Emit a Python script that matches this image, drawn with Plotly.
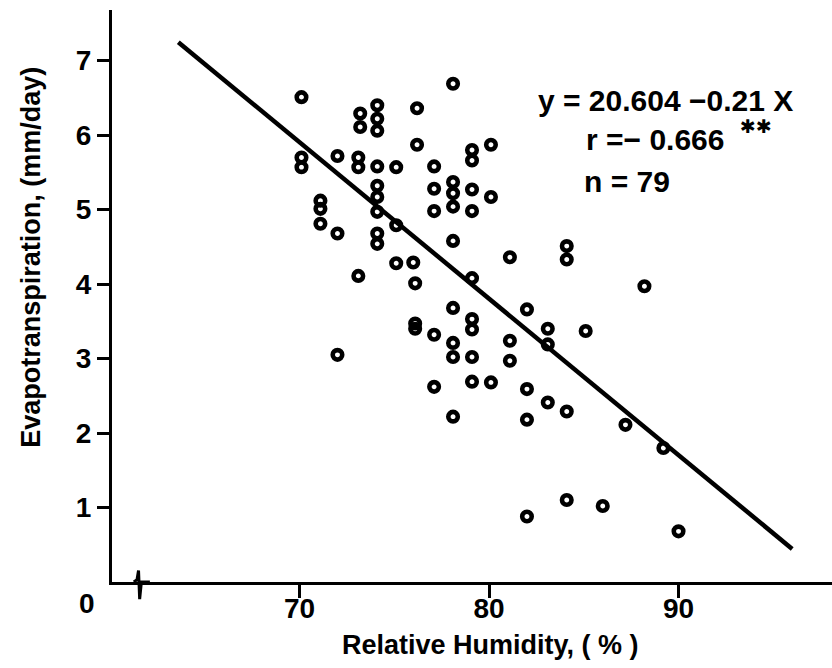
import plotly.graph_objects as go

# Relative humidity (%) and measured evapotranspiration (mm/day)
rh = [
    70.1, 70.1, 70.1,
    71.1, 71.1, 71.1,
    72.0, 72.0, 72.0,
    73.2, 73.2, 73.1, 73.1, 73.1,
    74.1, 74.1, 74.1, 74.1, 74.1, 74.1, 74.1, 74.1, 74.1,
    75.1, 75.1, 75.1,
    76.2, 76.2, 76.0, 76.1, 76.1, 76.1,
    77.1, 77.1, 77.1, 77.1, 77.1,
    78.1, 78.1, 78.1, 78.1, 78.1, 78.1, 78.1, 78.1, 78.1,
    79.1, 79.1, 79.1, 79.1, 79.1, 79.1, 79.1, 79.1, 79.1,
    80.1, 80.1, 80.1,
    81.1, 81.1, 81.1,
    82.0, 82.0, 82.0, 82.0,
    83.1, 83.1, 83.1,
    84.1, 84.1, 84.1, 84.1,
    85.1, 86.0, 87.2, 88.2, 89.2, 90.0,
]
et = [
    6.51, 5.70, 5.57,
    5.12, 5.01, 4.81,
    5.72, 4.68, 3.05,
    6.29, 6.11, 5.70, 5.57, 4.11,
    6.40, 6.22, 6.06, 5.58, 5.32, 5.17, 4.97, 4.68, 4.54,
    5.57, 4.79, 4.28,
    6.36, 5.87, 4.29, 4.01, 3.47, 3.40,
    5.58, 5.28, 4.98, 3.32, 2.62,
    6.69, 5.37, 5.22, 5.04, 4.58, 3.68, 3.21, 3.02, 2.22,
    5.80, 5.66, 5.27, 4.98, 4.08, 3.53, 3.39, 3.02, 2.69,
    5.87, 5.17, 2.68,
    4.36, 3.24, 2.97,
    3.66, 2.59, 2.18, 0.88,
    3.40, 3.19, 2.41,
    4.51, 4.33, 2.29, 1.10,
    3.37, 1.02, 2.11, 3.97, 1.80, 0.68,
]

# Fitted regression y = a + b * x, drawn over this RH span
intercept = 20.604
slope = -0.21
fit_x = [63.6, 96.0]
fit_y = [intercept + slope * x for x in fit_x]

x_ticks = [70, 80, 90]
y_ticks = [1, 2, 3, 4, 5, 6, 7]
x_range = [60.1, 98.1]
y_range = [0, 7.68]
break_at = 61.5

FONT = "Liberation Sans, Arial, sans-serif"
INK = "#000000"

fig = go.Figure()

fig.add_trace(go.Scatter(
    x=fit_x, y=fit_y, mode="lines",
    line=dict(color=INK, width=4.5),
    hoverinfo="skip", showlegend=False,
))

fig.add_trace(go.Scatter(
    x=rh, y=et, mode="markers",
    marker=dict(symbol="circle-open", size=9.5, color=INK,
                line=dict(width=4.6, color=INK)),
    showlegend=False,
))

tick_font = dict(family=FONT, size=28, color=INK, weight="bold")
title_font = dict(family=FONT, size=27, color=INK, weight="bold")

fig.update_xaxes(
    range=x_range, tickmode="array", tickvals=x_ticks,
    ticks="outside", ticklen=13, tickwidth=3, tickcolor=INK,
    ticklabelstandoff=-14,
    showline=True, linewidth=3, linecolor=INK,
    showgrid=False, zeroline=False,
    tickfont=tick_font,
)
fig.update_yaxes(
    range=y_range, tickmode="array", tickvals=y_ticks,
    ticks="outside", ticklen=12, tickwidth=3, tickcolor=INK,
    showline=True, linewidth=3, linecolor=INK,
    showgrid=False, zeroline=False,
    tickfont=tick_font,
)

# axis titles
fig.add_annotation(xref="paper", yref="paper", x=0.526, y=-0.110,
                   xanchor="center", yanchor="middle", showarrow=False,
                   text="Relative Humidity, ( % )", font=title_font)
fig.add_annotation(xref="paper", yref="paper", x=-0.113, y=0.568,
                   xanchor="center", yanchor="middle", showarrow=False,
                   textangle=-90,
                   text="Evapotranspiration, (mm/day)", font=title_font)

# axis break mark on the RH axis
fig.add_shape(
    type="path", xref="x", yref="paper",
    path=(f"M {break_at - 0.25},0 L {break_at - 0.08},0.004 "
          f"L {break_at},0.02 L {break_at + 0.06},-0.03 "
          f"L {break_at + 0.15},0.0 L {break_at + 0.6},0"),
    line=dict(color=INK, width=3),
)

ann_font = dict(family=FONT, size=30, color=INK, weight="bold")
fig.add_annotation(xref="paper", yref="paper", x=0.589, y=0.841,
                   xanchor="left", yanchor="middle", showarrow=False,
                   text=f"y = {intercept} \u2212{abs(slope)} X", font=ann_font)
fig.add_annotation(xref="paper", yref="paper", x=0.655, y=0.773,
                   xanchor="left", yanchor="middle", showarrow=False,
                   text="r =\u2212 0.666", font=ann_font)
fig.add_annotation(xref="paper", yref="paper", x=0.870, y=0.797,
                   xanchor="left", yanchor="middle", showarrow=False,
                   text="\u2731\u2731",
                   font=dict(family="DejaVu Sans", size=19, color=INK, weight="bold"))
fig.add_annotation(xref="paper", yref="paper", x=0.653, y=0.701,
                   xanchor="left", yanchor="middle", showarrow=False,
                   text="n = 79", font=ann_font)
# origin label
fig.add_annotation(xref="paper", yref="paper", x=-0.035, y=-0.038,
                   xanchor="center", yanchor="middle", showarrow=False,
                   text="0", font=tick_font)

fig.update_layout(
    width=832, height=668,
    margin=dict(l=112, r=0, t=10, b=86),
    paper_bgcolor="white", plot_bgcolor="white",
)

fig.write_html("out.html")
